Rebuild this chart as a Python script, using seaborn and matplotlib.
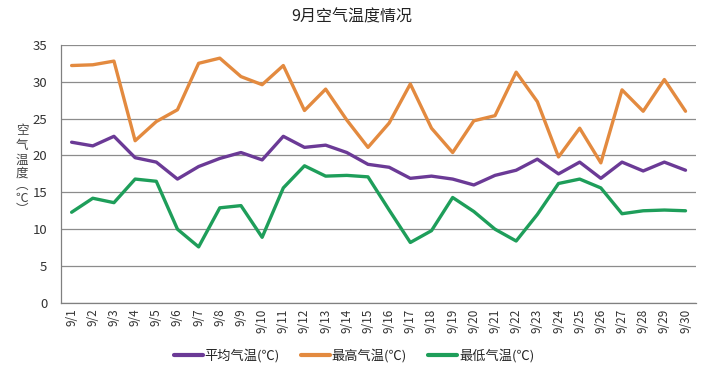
import matplotlib
matplotlib.use("Agg")
import matplotlib.pyplot as plt
import seaborn as sns
import pandas as pd
from matplotlib.lines import Line2D

days = [f"9/{i}" for i in range(1, 31)]
avg_temp = [21.8, 21.3, 22.6, 19.7, 19.1, 16.8, 18.5, 19.6, 20.4, 19.4,
            22.6, 21.1, 21.4, 20.4, 18.8, 18.4, 16.9, 17.2, 16.8, 16.0,
            17.3, 18.0, 19.5, 17.5, 19.1, 16.9, 19.1, 17.9, 19.1, 18.0]
max_temp = [32.2, 32.3, 32.8, 22.0, 24.6, 26.2, 32.5, 33.2, 30.7, 29.6,
            32.2, 26.1, 29.0, 24.8, 21.1, 24.4, 29.7, 23.7, 20.4, 24.7,
            25.4, 31.3, 27.3, 19.8, 23.7, 19.0, 28.9, 26.0, 30.3, 26.0]
min_temp = [12.3, 14.2, 13.6, 16.8, 16.5, 10.0, 7.6, 12.9, 13.2, 8.9,
            15.6, 18.6, 17.2, 17.3, 17.1, 12.6, 8.2, 9.8, 14.3, 12.4,
            10.0, 8.4, 12.0, 16.2, 16.8, 15.6, 12.1, 12.5, 12.6, 12.5]
series_names = ["平均气温(℃)", "最高气温(℃)", "最低气温(℃)"]
colors = ["#6B3A96", "#E38A3F", "#1E9E5A"]
y_ticks = [0, 5, 10, 15, 20, 25, 30, 35]
ylabel_chars = ["空", "气", "温", "度", "︵", "℃", "︶"]

sns.set_theme(style="white")
plt.rcParams['font.family'] = ['Noto Sans CJK SC', 'DejaVu Sans']

df = pd.DataFrame({"idx": list(range(len(days))) * 3,
                   "temp": avg_temp + max_temp + min_temp,
                   "series": [series_names[0]] * 30 + [series_names[1]] * 30 + [series_names[2]] * 30})

fig = plt.figure(figsize=(7.08, 3.74), dpi=100)
ax = fig.add_axes([0.0862, 0.19, 0.897, 0.69])

sns.lineplot(data=df, x="idx", y="temp", hue="series", palette=colors,
             hue_order=series_names, linewidth=2.4, ax=ax, legend=False)

ax.set_xlim(-0.5, len(days) - 0.5)
ax.set_ylim(0, 35)
ax.set_yticks(y_ticks)
ax.set_yticklabels([str(t) for t in y_ticks], fontsize=9.5, color="#333333")
ax.set_xticks(range(len(days)))
ax.set_xticklabels(days, rotation=90, fontsize=8.5, color="#333333")
ax.set_xticks([i - 0.5 for i in range(len(days) + 1)], minor=True)
ax.tick_params(axis="x", which="major", length=0, pad=4)
ax.tick_params(axis="x", which="minor", length=4, color="#808080", width=0.8)
ax.tick_params(axis="y", which="major", length=4, color="#808080", width=0.8, pad=6)
ax.grid(axis="y", color="#8c8c8c", linewidth=0.9)
ax.set_axisbelow(True)
for s in ["top", "right"]:
    ax.spines[s].set_visible(False)
for s in ["left", "bottom"]:
    ax.spines[s].set_color("#808080")
    ax.spines[s].set_linewidth(0.9)
ax.set_xlabel("")
ax.set_ylabel("")

fig.text(0.497, 0.955, "9月空气温度情况", ha="center", va="center", fontsize=11.5, color="#222222")

ypix = [131, 146, 160, 173, 185, 198, 210]
for ch, yp in zip(ylabel_chars, ypix):
    fig.text(22 / 708, 1 - yp / 374, ch, ha="center", va="center", fontsize=9, color="#444444")

handles = [Line2D([0], [0], color=c, linewidth=3) for c in colors]
fig.legend(handles, series_names, loc="center", bbox_to_anchor=(0.5, 0.048), ncol=3,
           frameon=False, fontsize=9.5, handlelength=2.2, handletextpad=0.15, columnspacing=1.6,
           borderaxespad=0)

fig.savefig("out.png", dpi=100)
